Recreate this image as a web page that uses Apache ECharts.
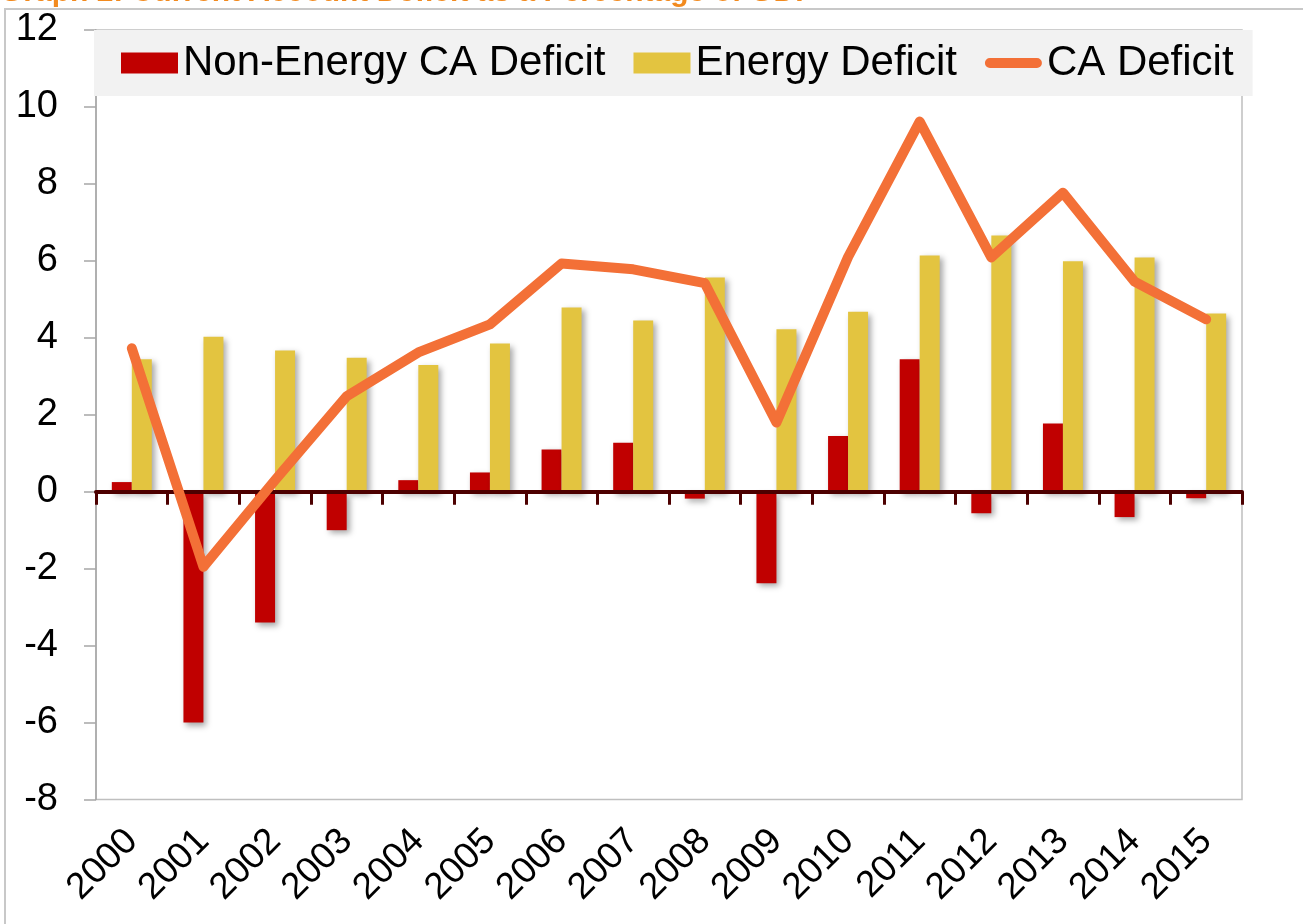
<!DOCTYPE html>
<html>
<head>
<meta charset="utf-8">
<title>Current Account Deficit</title>
<script src="https://cdn.jsdelivr.net/npm/echarts@6/dist/echarts.min.js"></script>
<style>
  html, body { margin: 0; padding: 0; background: #fff; }
  #chart { width: 1303px; height: 924px; }
</style>
</head>
<body>
<div id="chart"></div>
<script>
// data (% of GDP)
var years = ['2000', '2001', '2002', '2003', '2004', '2005', '2006', '2007', '2008', '2009', '2010', '2011', '2012', '2013', '2014', '2015'];
var nonEnergy = [0.25, -6.0, -3.4, -1.0, 0.3, 0.5, 1.1, 1.27, -0.18, -2.38, 1.45, 3.44, -0.56, 1.77, -0.66, -0.17];
var energy = [3.44, 4.03, 3.67, 3.48, 3.29, 3.85, 4.79, 4.45, 5.57, 4.22, 4.68, 6.14, 6.66, 5.99, 6.09, 4.63];
var caDeficit = [3.73, -1.95, 0.3, 2.48, 3.62, 4.35, 5.93, 5.78, 5.42, 1.8, 6.1, 9.62, 6.09, 7.77, 5.46, 4.48];

var myChart = echarts.init(document.getElementById('chart'));

var barShadow = { shadowBlur: 6, shadowColor: 'rgba(0,0,0,0.35)', shadowOffsetX: 3, shadowOffsetY: 3 };

var option = {
  animation: false,
  textStyle: { fontFamily: 'Liberation Sans, Arial, sans-serif', color: '#000' },
  graphic: [
    { type: 'rect', z: 0, silent: true,
      shape: { x: 5, y: 9, width: 1400, height: 1000 },
      style: { fill: 'none', stroke: '#c8c8c8', lineWidth: 2 } },
    // title is cut off by the top edge in the original
    { type: 'text', z: 1, silent: true, left: 0, top: -22,
      style: { text: 'Graph 2: Current Account Deficit as a Percentage of GDP', fill: '#f28a1e',
        font: 'bold 30px "Liberation Sans", Arial' } }
  ],
  legend: {
    left: 94, top: 30,
    padding: [12, 19, 12, 27],
    backgroundColor: '#f2f2f2',
    itemWidth: 57, itemHeight: 21, itemGap: 28,
    textStyle: { fontSize: 42, color: '#000' },
    data: [
      { name: 'Non-Energy CA Deficit', icon: 'rect' },
      { name: 'Energy Deficit', icon: 'rect' },
      { name: 'CA Deficit', icon: 'path://M6,0 L63,0 A6,6 0 0 1 63,12 L6,12 A6,6 0 0 1 6,0 Z' }
    ]
  },
  grid: {
    left: 96, right: 61, top: 30, bottom: 124.5,
    show: true, borderColor: '#bfbfbf', borderWidth: 1.5, backgroundColor: 'transparent'
  },
  xAxis: [
    {
      type: 'category', data: years, position: 'bottom', z: 6,
      axisLine: { onZero: true, lineStyle: { color: '#4d0000', width: 4 } },
      axisTick: { show: true, length: 13, lineStyle: { color: '#4d0000', width: 3 } },
      axisLabel: { show: false }
    },
    {
      type: 'category', data: years, position: 'bottom',
      axisLine: { show: false, onZero: false },
      axisTick: { show: false },
      axisLabel: { rotate: 45, fontSize: 37, margin: 36, color: '#000' }
    }
  ],
  yAxis: {
    type: 'value', min: -8, max: 12, interval: 2,
    axisLine: { show: true, lineStyle: { color: '#a6a6a6', width: 1.5 } },
    axisTick: { show: true, length: 12, lineStyle: { color: '#a6a6a6', width: 1.5 } },
    splitLine: { show: false },
    axisLabel: { fontSize: 38, margin: 38, color: '#000' }
  },
  series: [
    {
      name: 'Non-Energy CA Deficit', type: 'bar', xAxisIndex: 0,
      barWidth: 20, barGap: '0%',
      itemStyle: Object.assign({ color: '#c00000' }, barShadow),
      data: nonEnergy
    },
    {
      name: 'Energy Deficit', type: 'bar', xAxisIndex: 0,
      barWidth: 20, barGap: '0%',
      itemStyle: Object.assign({ color: '#e3c440' }, barShadow),
      data: energy
    },
    {
      name: 'CA Deficit', type: 'line', xAxisIndex: 0, z: 7,
      symbol: 'none', showSymbol: false,
      itemStyle: { color: '#f37037' },
      lineStyle: { color: '#f37037', width: 10, cap: 'round', join: 'round' },
      data: caDeficit
    }
  ]
};

myChart.setOption(option);
</script>
</body>
</html>
